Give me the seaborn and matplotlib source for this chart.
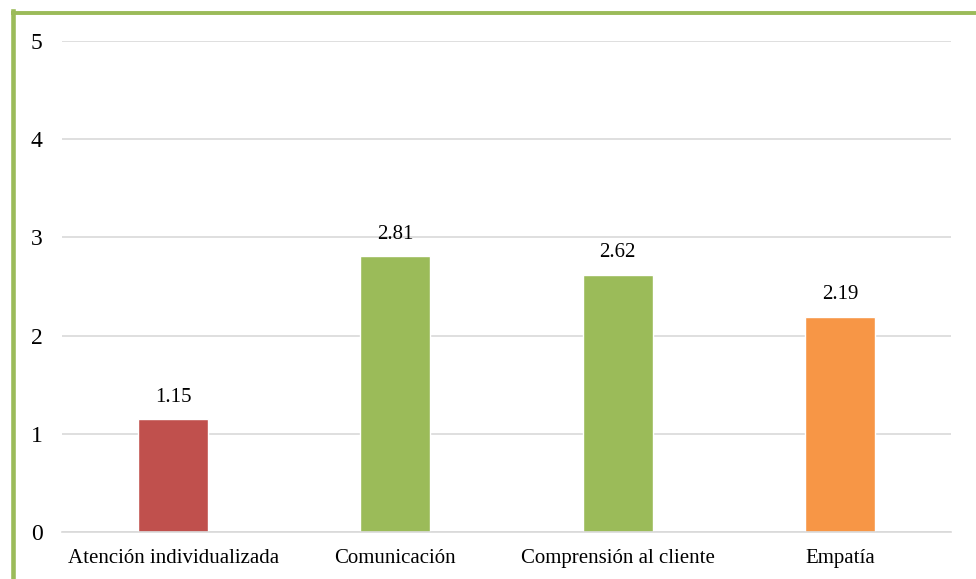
import matplotlib
matplotlib.use("Agg")
import matplotlib.pyplot as plt
from matplotlib.lines import Line2D
import seaborn as sns
import pandas as pd

categories = ["Atención individualizada", "Comunicación", "Comprensión al cliente", "Empatía"]
values = [1.15, 2.81, 2.62, 2.19]
colors = ["#C0504D", "#9BBB59", "#9BBB59", "#F79646"]
y_ticks = [0, 1, 2, 3, 4, 5]

sns.set_theme(style="white")
plt.rcParams["font.family"] = ["Liberation Serif", "DejaVu Serif"]

W, H = 976, 579
fig = plt.figure(figsize=(W / 100, H / 100), dpi=100)
ax = fig.add_axes([62 / W, (H - 532) / H, (951 - 62) / W, (532 - 41) / H])

df = pd.DataFrame({"cat": categories, "val": values})
sns.barplot(data=df, x="cat", y="val", hue="cat", palette=colors,
            width=0.315, legend=False, ax=ax, saturation=1)

ax.set_ylim(0, 5)
ax.set_yticks(y_ticks)
ax.set_xlim(-0.5, len(categories) - 0.5)
ax.yaxis.grid(True, color="#D9D9D9", linewidth=1.2)
ax.set_axisbelow(True)
for s in ["top", "right", "left"]:
    ax.spines[s].set_visible(False)
ax.spines["bottom"].set_color("#D9D9D9")
ax.spines["bottom"].set_linewidth(1.2)
ax.set_xlabel("")
ax.set_ylabel("")
ax.tick_params(axis="both", length=0, labelcolor="black")
ax.tick_params(axis="x", pad=12, labelsize=15)
ax.tick_params(axis="y", pad=14, labelsize=17)

for i, v in enumerate(values):
    ax.annotate(f"{v:.2f}", (i, v), xytext=(0, 9), textcoords="offset points",
                ha="center", va="bottom", fontsize=15, color="black")

# Frame of the chart area
fig.add_artist(Line2D([12.5 / W, 12.5 / W], [1 - 11 / H, 0], color="#9BBB59",
                      linewidth=3.3, transform=fig.transFigure, solid_capstyle="projecting"))
fig.add_artist(Line2D([11 / W, 1], [1 - 12.5 / H, 1 - 12.5 / H], color="#9BBB59",
                      linewidth=2.8, transform=fig.transFigure, solid_capstyle="butt"))

fig.savefig("out.png", dpi=100)
